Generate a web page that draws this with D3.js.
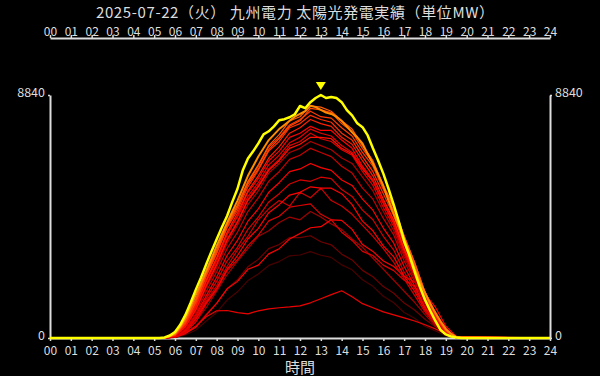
<!DOCTYPE html>
<html><head><meta charset="utf-8">
<script src="https://cdn.jsdelivr.net/npm/d3@7"></script>
<style>
html,body{margin:0;padding:0;background:#000;}
svg{display:block;background:#000;}
text{font-family:"Noto Sans CJK JP","Noto Sans",sans-serif;}
</style></head>
<body>
<script>
// ---------- DATA ----------
const titleText = "2025-07-22（火） 九州電力 太陽光発電実績（単位MW）";
const xLabel = "時間";
const hourTicks = [0,1,2,3,4,5,6,7,8,9,10,11,12,13,14,15,16,17,18,19,20,21,22,23,24];
const yTicks = [0, 8840];
const yMax = 8840;

// today (15-min) 05:00 .. 20:00
const todayHours = [5,5.25,5.5,5.75,6,6.25,6.5,6.75,7,7.25,7.5,7.75,8,8.25,8.5,8.75,9,9.25,9.5,9.75,10,10.25,10.5,10.75,11,11.25,11.5,11.75,12,12.25,12.5,12.75,13,13.25,13.5,13.75,14,14.25,14.5,14.75,15,15.25,15.5,15.75,16,16.25,16.5,16.75,17,17.25,17.5,17.75,18,18.25,18.5,18.75,19,19.25,19.5,19.75,20];
const todayValues = [0,0,20,90,220,480,840,1280,1760,2200,2680,3150,3590,4030,4440,4950,5430,6090,6530,6790,7080,7410,7520,7700,7920,7960,8030,8140,8440,8360,8580,8730,8840,8730,8770,8730,8580,8290,8100,7810,7670,7370,6900,6460,5980,5430,4840,4220,3520,3010,2420,1870,1390,990,620,290,130,55,20,0,0];
const yesterdayValues = [0,0,10,60,170,400,720,1130,1570,2000,2450,2900,3350,3780,4200,4600,5000,5450,5900,6250,6600,6900,7200,7400,7600,7750,7900,8050,8150,8250,8450,8400,8300,8200,8150,8050,7900,7700,7480,7300,7080,6700,6350,5950,5540,5000,4510,4050,3590,3050,2530,2050,1650,1250,920,600,330,150,40,0,0];

// past days (30-min) 05:30 .. 19:30
const pastHours = [5.5,6,6.5,7,7.5,8,8.5,9,9.5,10,10.5,11,11.5,12,12.5,13,13.5,14,14.5,15,15.5,16,16.5,17,17.5,18,18.5,19,19.5];
const past01 = [0,20,110,290,620,930,1380,1680,2090,2330,2640,2780,2990,3020,3140,3010,2930,2660,2480,2120,1880,1520,1280,930,720,430,260,80,10];
const past02 = [0,20,160,430,880,1270,1790,2120,2590,2860,3250,3400,3660,3650,3720,3500,3390,3050,2840,2460,2230,1870,1630,1270,1020,680,410,130,10];
const past03 = [0,30,220,600,1100,1700,2300,2800,3250,3700,3900,4200,4400,4300,4600,4400,4150,3950,3600,3300,2900,2500,2100,1700,1300,850,430,140,15];
const past04 = [0,30,160,390,830,1260,1790,2060,2500,2650,3060,3250,3600,3800,4010,4050,4300,4280,3950,3400,3150,2800,2600,2250,2040,1600,1120,430,60];
const past05 = [0,40,180,440,770,990,1000,920,880,990,1060,1100,1130,1170,1280,1430,1580,1720,1500,1250,1100,950,840,730,620,480,330,150,20];
const past06 = [0,30,210,580,1240,1760,2450,2850,3360,3740,4260,4430,4760,4820,4880,4500,4300,3850,3550,3150,3000,2650,2450,2100,1880,1420,920,340,40];
const past07 = [0,40,260,720,1350,1900,2600,3200,3700,4300,4700,5000,4800,5300,5100,5450,5000,4800,4500,4100,3700,3250,2750,2150,1550,950,480,150,15];
const past08 = [0,30,260,680,1290,1810,2500,3000,3600,3990,4560,4850,5200,5300,5500,5450,5450,5250,4850,4250,3900,3350,2950,2250,1700,1020,540,160,15];
const past09 = [0,40,290,760,1440,2060,2800,3300,3950,4400,4950,5250,5600,5750,5700,5850,5800,5400,5150,4650,4300,3700,3200,2400,1800,1070,580,170,20];
const past10 = [0,40,310,830,1540,2210,3000,3550,4250,4700,5300,5650,6050,6150,6350,6200,6100,5750,5550,5050,4650,4000,3450,2600,1900,1120,600,180,20];
const past11 = [0,50,340,880,1690,2410,3250,3850,4600,5100,5700,6050,6500,6650,6900,6750,6600,6250,6000,5450,5050,4350,3750,2800,2050,1220,640,190,20];
const past12 = [0,60,390,980,1840,2560,3450,4100,4850,5350,6000,6350,6750,6900,7150,7000,6850,6550,6350,5850,5350,4600,3900,2950,2150,1270,670,200,20];
const past13 = [0,70,430,1080,1940,2710,3600,4250,5050,5550,6150,6500,7000,7150,7450,7250,7150,6850,6650,6050,5550,4750,4050,3050,2250,1320,720,210,20];
const past14 = [0,70,410,1030,1890,2660,3550,4200,5000,5500,6100,6450,6900,7050,7300,7300,7250,6900,6700,6150,5700,4900,4200,3200,2350,1370,720,210,20];
const past15 = [0,80,460,1130,2040,2810,3750,4450,5300,5800,6450,6800,7300,7450,7700,7550,7550,7200,6900,6250,5750,4900,4150,3150,2300,1370,720,220,20];
const past16 = [0,90,510,1230,2140,2910,3800,4400,5150,5650,6300,6650,7100,7300,7600,7450,7350,7000,6750,6200,5750,4950,4250,3250,2400,1420,750,220,20];
const past17 = [0,90,490,1180,2090,2910,3850,4550,5350,5900,6550,6950,7450,7650,7950,7800,7700,7300,7050,6450,5900,5050,4300,3250,2400,1420,770,230,20];
const past18 = [0,100,530,1280,2240,3060,4000,4650,5500,6100,6800,7150,7650,7800,8100,7950,7850,7450,7200,6600,6050,5250,4450,3400,2500,1520,820,250,30];
const past19 = [0,120,610,1380,2340,3160,4100,4800,5650,6250,6950,7300,7750,7950,8250,8050,8000,7650,7350,6750,6250,5400,4650,3600,2650,1620,870,280,30];
const past20 = [0,110,570,1330,2290,3110,4050,4750,5600,6150,6850,7250,7700,7900,8350,8300,8200,7800,7500,6900,6350,5500,4750,3700,2750,1670,900,290,30];
const past21 = [0,130,660,1430,2390,3210,4150,4850,5700,6300,7000,7400,7900,8050,8450,8400,8250,7900,7600,7000,6450,5550,4800,3700,2750,1670,900,290,30];
const pastSeries = [past01,past02,past03,past04,past05,past06,past07,past08,past09,past10,past11,past12,past13,past14,past15,past16,past17,past18,past19,past20,past21];

// ---------- STYLE ----------
const pastColors = ["#4a0000","#700000","#a00000","#ff0000","#ee0000","#e00000","#d00000","#ff0000","#d80000","#ff0000","#c80000","#b00000","#e00000","#ff1000","#ff0000","#e80000","#ff2000","#ff3000","#ff3a00","#ff4800","#ff5a00"];
const W = 600, H = 376;
const svg = d3.select("body").append("svg").attr("width", W).attr("height", H);

const x = d3.scaleLinear().domain([0, 24]).range([50, 550]);
const y = d3.scaleLinear().domain([0, yMax]).range([338, 95]);

const fmt = d => String(d).padStart(2, "0");
const axisColor = "#dddddd";

function styleAxis(g) {
  g.select(".domain").attr("stroke", axisColor).attr("stroke-width", 2);
  g.selectAll(".tick line").attr("stroke", axisColor).attr("stroke-width", 1.5);
  g.selectAll(".tick text").attr("fill", axisColor).style("font-family", '"Noto Sans CJK JP","Noto Sans",sans-serif');
}

// top axis
svg.append("g").attr("transform", "translate(0,38)")
  .call(d3.axisTop(x).tickValues(hourTicks).tickFormat(fmt).tickSize(3).tickSizeOuter(0).tickPadding(-1))
  .call(g => g.selectAll("text").style("font-size", "12px"))
  .call(styleAxis);

// bottom axis
svg.append("g").attr("transform", "translate(0,338)")
  .call(d3.axisBottom(x).tickValues(hourTicks).tickFormat(fmt).tickSize(3).tickSizeOuter(0).tickPadding(5))
  .call(g => g.selectAll("text").style("font-size", "12px"))
  .call(styleAxis);

// left axis
svg.append("g").attr("transform", "translate(50,0)")
  .call(d3.axisLeft(y).tickValues(yTicks).tickFormat(d3.format("d")).tickSize(2).tickSizeOuter(0).tickPadding(3))
  .call(g => g.selectAll("text").style("font-size", "12.5px").attr("dy", "0.08em"))
  .call(styleAxis);

// right axis
svg.append("g").attr("transform", "translate(550,0)")
  .call(d3.axisRight(y).tickValues(yTicks).tickFormat(d3.format("d")).tickSize(2).tickSizeOuter(0).tickPadding(3))
  .call(g => g.selectAll("text").style("font-size", "12.5px").attr("dy", "0.08em"))
  .call(styleAxis);

// title
svg.append("text").attr("x", 295).attr("y", 17.6).attr("text-anchor", "middle")
  .attr("fill", axisColor).style("font-size", "15px")
  .attr("textLength", 398).attr("lengthAdjust", "spacing")
  .text(titleText);

// x label
svg.append("text").attr("x", 300).attr("y", 373).attr("text-anchor", "middle")
  .attr("fill", axisColor).style("font-size", "15px")
  .text(xLabel);

// lines
const line = d3.line().x(d => x(d[0])).y(d => y(d[1]));
const plot = svg.append("g");

pastSeries.forEach((vals, i) => {
  const pts = [[0,0]].concat(pastHours.map((h, k) => [h, vals[k]])).concat([[24,0]]);
  plot.append("path").datum(pts)
    .attr("fill", "none").attr("stroke", pastColors[i]).attr("stroke-width", 1.2)
    .attr("stroke-linejoin", "round").attr("d", line);
});

const yPts = [[0,0]].concat(todayHours.map((h, k) => [h, yesterdayValues[k]])).concat([[24,0]]);
plot.append("path").datum(yPts)
  .attr("fill", "none").attr("stroke", "#ff8c00").attr("stroke-width", 2)
  .attr("stroke-linejoin", "round").attr("d", line);

const tPts = [[0,0]].concat(todayHours.map((h, k) => [h, todayValues[k]])).concat([[24,0]]);
plot.append("path").datum(tPts)
  .attr("fill", "none").attr("stroke", "#ffff00").attr("stroke-width", 2.5)
  .attr("stroke-linejoin", "round").attr("d", line);

// max marker
const maxIdx = d3.maxIndex(todayValues);
const mx = x(todayHours[maxIdx]), my = y(todayValues[maxIdx]);
svg.append("path")
  .attr("d", `M${mx-5},${my-13} L${mx+5},${my-13} L${mx},${my-5} Z`)
  .attr("fill", "#ffff00");
</script>
</body></html>
